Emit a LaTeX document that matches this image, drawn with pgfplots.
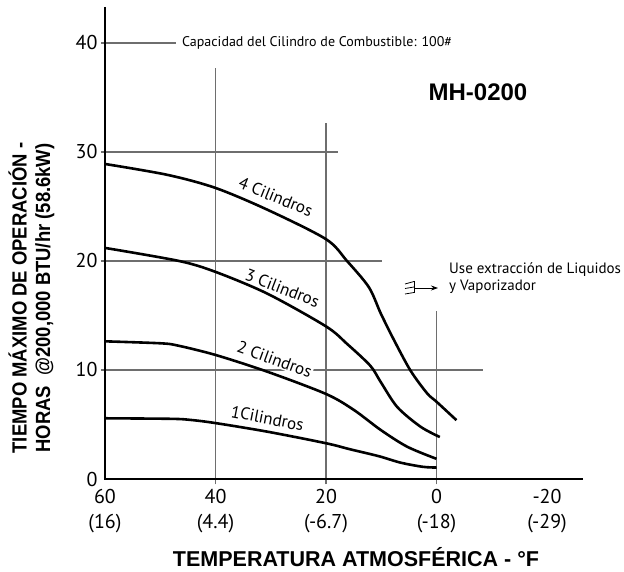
\documentclass[border=0pt]{standalone}
\usepackage{pgfplots}
\pgfplotsset{compat=1.18}
\usepackage{fontspec}
\setmainfont{PT Sans}
\newfontfamily\hel{Liberation Sans}
\usetikzlibrary{arrows.meta}
\definecolor{gridc}{HTML}{6E6E6E}

\begin{document}
\begin{tikzpicture}
\path[use as bounding box] (0,0) rectangle (624pt,571pt);
\begin{axis}[
  at={(105pt,92pt)}, anchor=south west,
  scale only axis, width=478.5pt, height=472pt,
  xmin=-26.6, xmax=60, ymin=0, ymax=43.3,
  x dir=reverse,
  clip=false,
  axis line style={draw=none},
  major tick length=0pt,
  xtick={60,40,20,0,-20},
  xticklabels={{60\\(16)},{40\\(4.4)},{20\\(-6.7)},{0\\(-18)},{-20\\(-29)}},
  xticklabel style={align=center, font=\fontsize{20}{24.5}\selectfont, yshift=-7pt},
  ytick={0,10,20,30,40},
  yticklabel style={font=\fontsize{20}{24}\selectfont, xshift=-4pt},
  /pgf/number format/assume math mode=true,
]
% partial grid lines
\draw[gridc, line width=1.2pt] (axis cs:60.75,40) -- (axis cs:47.2,40);
\draw[gridc, line width=1.2pt] (axis cs:60.75,30) -- (axis cs:17.8,30);
\draw[gridc, line width=1.2pt] (axis cs:60.75,20) -- (axis cs:9.8,20);
\draw[gridc, line width=1.2pt] (axis cs:60.75,10) -- (axis cs:-8.45,10);
\draw[gridc, line width=1.2pt] (axis cs:40,-0.5) -- (axis cs:40,37.7);
\draw[gridc, line width=1.2pt] (axis cs:20,-0.5) -- (axis cs:20,32.7);
\draw[gridc, line width=1.2pt] (axis cs:0,-0.5) -- (axis cs:0,15.4);
% curve labels
\node[fill=white, inner sep=1pt, rotate=-22, font=\fontsize{17}{20}\selectfont] at (axis cs:29.1,25.9) {4 Cilindros};
\node[fill=white, inner sep=1pt, rotate=-21, font=\fontsize{17}{20}\selectfont] at (axis cs:27.9,17.5) {3 Cilindros};
\node[fill=white, inner sep=1pt, rotate=-20, font=\fontsize{17}{20}\selectfont] at (axis cs:29.3,10.98) {2 Cilindros};
\node[fill=white, inner sep=1pt, rotate=-11, font=\fontsize{17}{20}\selectfont] at (axis cs:30.6,5.57) {1Cilindros};
% curves
\addplot[black, line width=2.6pt, smooth, tension=0.5] coordinates {
 (60,28.9) (48.7,27.9) (40,26.7) (30.6,24.7) (20,22.0) (16.2,20.0) (12.25,17.6)
 (10.1,15.2) (7.7,12.75) (4.7,9.94) (1.7,7.86) (0,7.09) (-3.6,5.4)};
\addplot[black, line width=2.6pt, smooth, tension=0.5] coordinates {
 (60,21.2) (46.6,20.0) (40,19.0) (30.6,17.0) (20,14.0) (16.2,12.4) (12,10.4)
 (10.1,8.9) (7.1,6.6) (2.9,4.8) (-0.6,3.85)};
\addplot[black, line width=2.6pt, smooth, tension=0.5] coordinates {
 (60,12.63) (50,12.45) (46.9,12.25) (40,11.38) (30.6,9.84) (20,7.8) (15,6.35) (10.1,4.5)
 (5.3,2.96) (0,1.85)};
\addplot[black, line width=2.6pt, smooth, tension=0.5] coordinates {
 (60,5.57) (48,5.52) (44.5,5.42) (40,5.13) (30.6,4.34) (20,3.28) (15.6,2.72)
 (10.5,2.1) (6.5,1.5) (2.5,1.12) (0,1.05)};
% spines
\draw[black, line width=2.8pt, line join=miter] (axis cs:60,43.3) -- (axis cs:60,0) -- (axis cs:-26.6,0);
\end{axis}
% annotations
\node[anchor=west, font=\fontsize{14}{16}\selectfont, inner sep=0pt] at (182pt,528pt) {Capacidad del Cilindro de Combustible: 100\#};
\node[font=\hel\bfseries\fontsize{24}{28}\selectfont] at (478pt,479pt) {MH-0200};
\node[anchor=west, font=\fontsize{15}{18}\selectfont, inner sep=0pt] at (449pt,301pt) {Use extracción de Liquidos};
\node[anchor=west, font=\fontsize{15}{18}\selectfont, inner sep=0pt] at (449pt,284pt) {y Vaporizador};
\draw[black, line width=0.8pt] (414pt,290pt) -- (414pt,278pt);
\draw[black, line width=0.8pt] (405pt,287pt) -- (414pt,289.5pt);
\draw[black, line width=0.8pt] (405pt,282.5pt) -- (414pt,284pt);
\draw[black, line width=0.8pt] (405pt,277pt) -- (414pt,278.5pt);
\draw[black, line width=0.8pt, -{Stealth[length=7pt,width=5pt]}] (414pt,283pt) -- (438pt,283pt);
\node[inner sep=0pt, font=\hel\bfseries\fontsize{21.5}{25}\selectfont] at (356pt,14pt) {TEMPERATURA ATMOSFÉRICA - °F};
\node[rotate=90, inner sep=0pt, font=\hel\bfseries\fontsize{20.5}{25.5}\selectfont] at (33pt,273pt) {\scalebox{0.9}[1]{\begin{tabular}{@{}c@{}}TIEMPO MÁXIMO DE OPERACIÓN -\\[-2pt]HORAS\ \ @200,000 BTU/hr (58.6kW)\end{tabular}}};
\end{tikzpicture}
\end{document}
